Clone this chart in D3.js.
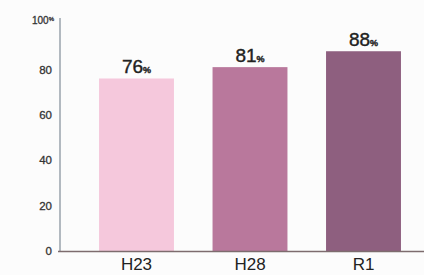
<!DOCTYPE html>
<html><head><meta charset="utf-8">
<script src="https://cdn.jsdelivr.net/npm/d3@7"></script>
<style>body{margin:0;background:#fcfcfc}svg{display:block}</style>
</head><body>
<svg id="c" width="424" height="275"></svg>
<script>
const categories = ["H23", "H28", "R1"];
const values = [76, 81, 88];
const barColors = ["#f5c8dc", "#b9789c", "#8e5f7f"];
const tickValues = [0, 20, 40, 60, 80, 100];

const svg = d3.select("#c");
const y = d3.scaleLinear().domain([0, 100]).range([251, 24]);
const x = d3.scaleBand().domain(categories).range([60, 440]).paddingInner(0.34).paddingOuter(0.344);
const font = "Liberation Sans, Arial, sans-serif";

// y axis
const yAxis = d3.axisLeft(y).tickValues(tickValues).tickSize(0).tickPadding(8)
  .tickFormat(d => String(d));
const ga = svg.append("g").attr("transform", "translate(60,0)").call(yAxis);
ga.select(".domain").attr("stroke", "#9aa3ad").attr("stroke-width", 1.5).attr("d", `M0,${y(100)-6}V${y(0)}`);
ga.selectAll("text").attr("font-family", font).attr("font-size", 11.5).attr("fill", "#333")
  .attr("stroke", "#333").attr("stroke-width", 0.3);
ga.selectAll(".tick").filter(d => d === 100).select("text")
  .attr("font-size", 10).attr("dx", 2).attr("y", -4)
  .append("tspan").attr("font-size", 6).attr("dy", "-0.4em").text("%");

// bars
svg.selectAll("rect.bar").data(values).join("rect").attr("class", "bar")
  .attr("x", (d, i) => x(categories[i]))
  .attr("width", x.bandwidth())
  .attr("y", d => y(d))
  .attr("height", d => y(0) - y(d))
  .attr("fill", (d, i) => barColors[i]);

// baseline
svg.append("line").attr("x1", 58).attr("x2", 424).attr("y1", y(0) + 0.5).attr("y2", y(0) + 0.5)
  .attr("stroke", "#7d6c6e").attr("stroke-width", 1.5);

// value labels
const vl = svg.selectAll("text.val").data(values).join("text").attr("class", "val")
  .attr("x", (d, i) => x(categories[i]) + x.bandwidth() / 2)
  .attr("y", d => y(d) - 5)
  .attr("text-anchor", "middle")
  .attr("font-family", font).attr("font-size", 19).attr("fill", "#222")
  .attr("stroke", "#222").attr("stroke-width", 0.4);
vl.append("tspan").text(d => d);
vl.append("tspan").attr("font-size", 9).attr("font-weight", "bold").text("%");

// category labels
svg.selectAll("text.cat").data(categories).join("text").attr("class", "cat")
  .attr("x", d => x(d) + x.bandwidth() / 2)
  .attr("y", 270)
  .attr("text-anchor", "middle")
  .attr("font-family", font).attr("font-size", 17).attr("fill", "#222")
  .text(d => d);
</script>
</body></html>
